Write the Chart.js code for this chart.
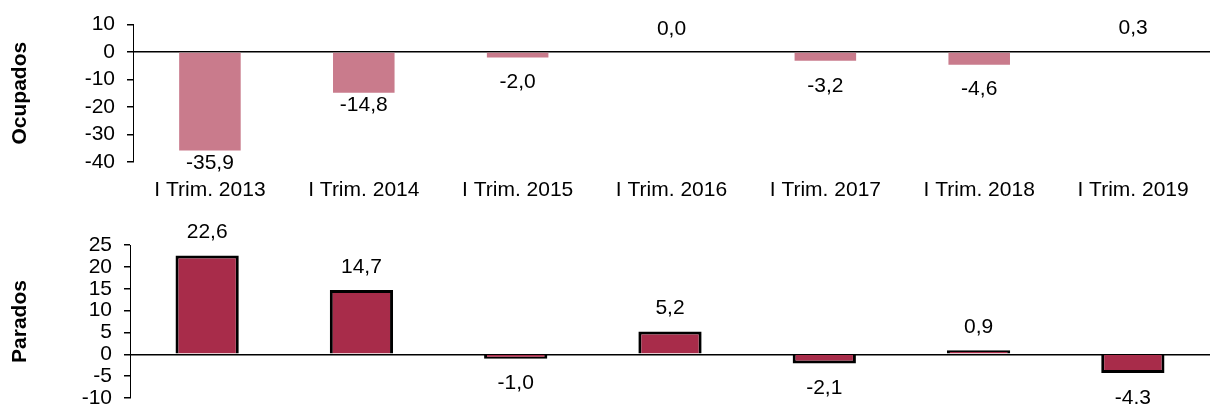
<!DOCTYPE html>
<html>
<head>
<meta charset="utf-8">
<script src="https://cdn.jsdelivr.net/npm/chart.js@4.4.1/dist/chart.umd.min.js"></script>
<style>
    html, body { margin: 0; padding: 0; background: #fff; overflow: hidden; }
    #cajaOcupados { position: absolute; left: 0; top: 0; width: 1210px; height: 219px; }
    #cajaParados { position: absolute; left: 0; top: 205px; width: 1210px; height: 220px; }
</style>
</head>
<body>
<div id="cajaOcupados"><canvas id="ocupadosChart"></canvas></div>
<div id="cajaParados"><canvas id="paradosChart"></canvas></div>
<script>
// Datos
const trimestres = ["I Trim. 2013", "I Trim. 2014", "I Trim. 2015", "I Trim. 2016", "I Trim. 2017", "I Trim. 2018", "I Trim. 2019"];
const ocupados = [-35.9, -14.8, -2.0, 0.0, -3.2, -4.6, 0.3];
const ocupadosTextos = ["-35,9", "-14,8", "-2,0", "0,0", "-3,2", "-4,6", "0,3"];
const parados = [22.6, 14.7, -1.0, 5.2, -2.1, 0.9, -4.3];
const paradosTextos = ["22,6", "14,7", "-1,0", "5,2", "-2,1", "0,9", "-4.3"];
const ejeOcupados = [-40, 10, 10]; // min, max, paso
const ejeParados = [-10, 25, 5];

const fuente = "'Liberation Sans', Arial, sans-serif";

// Etiquetas de valor sobre / bajo cada barra
const etiquetasPlugin = {
    id: "etiquetas",
    afterDatasetsDraw(chart, args, opts) {
        const ctx = chart.ctx;
        const meta = chart.getDatasetMeta(0);
        const valores = chart.data.datasets[0].data;
        ctx.save();
        ctx.font = "21px " + fuente;
        ctx.fillStyle = "#000";
        ctx.textAlign = "center";
        ctx.textBaseline = "middle";
        meta.data.forEach((bar, i) => {
            let y;
            if (valores[i] >= 0) {
                y = bar.y - opts.arriba;
            } else {
                const largo = Math.abs(bar.y - bar.base);
                y = bar.y + (largo < 20 ? opts.abajoCorto : opts.abajo);
            }
            ctx.fillText(opts.textos[i], bar.x, y);
        });
        ctx.restore();
    },
};

function ejeY(rango, titulo, ancho) {
    return {
        min: rango[0],
        max: rango[1],
        afterFit: (s) => { s.width = ancho; },
        ticks: {
            stepSize: rango[2],
            autoSkip: false,
            color: "#000",
            padding: 12,
            font: { family: fuente, size: 21 },
        },
        grid: {
            color: (c) => (c.tick && c.tick.value === 0 ? "#000" : "transparent"),
            tickColor: "#000",
            tickLength: 6,
            lineWidth: 1.5,
        },
        border: { display: true, color: "#000", width: 1 },
        title: {
            display: true,
            text: titulo,
            color: "#000",
            padding: { top: 8, bottom: 0 },
            font: { family: fuente, size: 21, weight: "bold" },
        },
    };
}

// Gráfico de Ocupados
new Chart(document.getElementById("ocupadosChart"), {
    type: "bar",
    data: {
        labels: trimestres,
        datasets: [{
            data: ocupados,
            backgroundColor: "#C97B8C",
            borderWidth: 0,
            barPercentage: 0.4,
            categoryPercentage: 1,
        }],
    },
    options: {
        responsive: true,
        maintainAspectRatio: false,
        animation: false,
        layout: { padding: { top: 22, bottom: 0, left: 0, right: 0 } },
        plugins: {
            legend: { display: false },
            tooltip: { enabled: false },
            etiquetas: { textos: ocupadosTextos, arriba: 23, abajo: 13, abajoCorto: 25 },
        },
        scales: {
            x: {
                grid: { display: false, drawTicks: false },
                border: { display: false },
                ticks: {
                    color: "#000",
                    padding: 16,
                    autoSkip: false,
                    maxRotation: 0,
                    font: { family: fuente, size: 21 },
                },
            },
            y: ejeY(ejeOcupados, "Ocupados", 133),
        },
    },
    plugins: [etiquetasPlugin],
});

// Gráfico de Parados
new Chart(document.getElementById("paradosChart"), {
    type: "bar",
    data: {
        labels: trimestres,
        datasets: [{
            data: parados,
            backgroundColor: "#A82C4A",
            borderColor: "#000",
            borderWidth: 3,
            barPercentage: 0.41,
            categoryPercentage: 1,
        }],
    },
    options: {
        responsive: true,
        maintainAspectRatio: false,
        animation: false,
        layout: { padding: { top: 40, bottom: 27, left: 0, right: 0 } },
        plugins: {
            legend: { display: false },
            tooltip: { enabled: false },
            etiquetas: { textos: paradosTextos, arriba: 23, abajo: 25, abajoCorto: 25 },
        },
        scales: {
            x: { display: false },
            y: ejeY(ejeParados, "Parados", 130),
        },
    },
    plugins: [etiquetasPlugin],
});
</script>
</body>
</html>
